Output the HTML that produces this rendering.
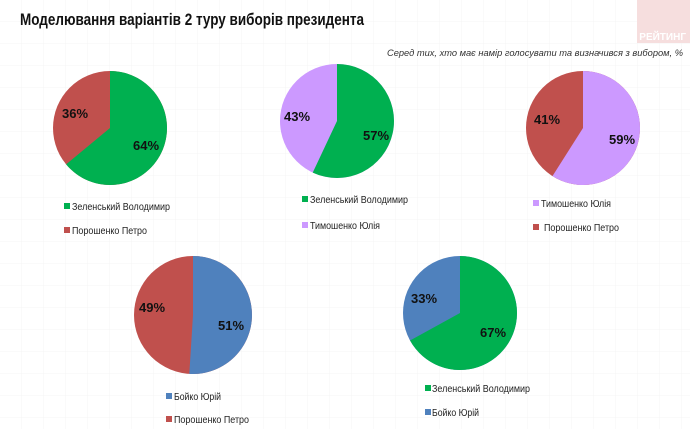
<!DOCTYPE html>
<html><head><meta charset="utf-8"><style>
body{margin:0;width:690px;height:429px;overflow:hidden;background:#fff;font-family:"Liberation Sans",sans-serif;}
svg{display:block}
</style></head><body>
<svg id="s" width="690" height="429" xmlns="http://www.w3.org/2000/svg" font-family="Liberation Sans, sans-serif">
<defs><pattern id="g" width="22" height="22" patternUnits="userSpaceOnUse"><path d="M22 0V22H0" fill="none" stroke="#f4f4f4" stroke-width="1"/></pattern></defs>
<rect width="690" height="429" fill="url(#g)"/>
<rect x="637" y="0" width="53" height="43" fill="#f6dede"/>
<text x="686" y="40" font-size="10" font-weight="bold" fill="#fff" text-anchor="end">РЕЙТИНГ</text>
<text x="20" y="25" font-size="17" font-weight="bold" fill="#111" textLength="344" lengthAdjust="spacingAndGlyphs">Моделювання варіантів 2 туру виборів президента</text>
<text x="683" y="56" font-size="9.5" font-style="italic" fill="#333" text-anchor="end" textLength="296" lengthAdjust="spacingAndGlyphs">Серед тих, хто має намір голосувати  та визначився з вибором, %</text>
<g id="pies"></g>
<g font-size="10" fill="#222" lengthAdjust="spacingAndGlyphs">
<rect x="64" y="203" width="6" height="6" fill="#00b050"/><text x="72" y="210" textLength="98" lengthAdjust="spacingAndGlyphs">Зеленський Володимир</text>
<rect x="64" y="227" width="6" height="6" fill="#c0504d"/><text x="72" y="234" textLength="75" lengthAdjust="spacingAndGlyphs">Порошенко Петро</text>
<rect x="302" y="196" width="6" height="6" fill="#00b050"/><text x="310" y="203" textLength="98" lengthAdjust="spacingAndGlyphs">Зеленський Володимир</text>
<rect x="302" y="222" width="6" height="6" fill="#cc99ff"/><text x="310" y="229" textLength="70" lengthAdjust="spacingAndGlyphs">Тимошенко Юлія</text>
<rect x="533" y="200" width="6" height="6" fill="#cc99ff"/><text x="541" y="207" textLength="70" lengthAdjust="spacingAndGlyphs">Тимошенко Юлія</text>
<rect x="533" y="224" width="6" height="6" fill="#c0504d"/><text x="544" y="231" textLength="75" lengthAdjust="spacingAndGlyphs">Порошенко Петро</text>
<rect x="166" y="393" width="6" height="6" fill="#4f81bd"/><text x="174" y="400" textLength="47" lengthAdjust="spacingAndGlyphs">Бойко Юрій</text>
<rect x="166" y="416" width="6" height="6" fill="#c0504d"/><text x="174" y="423" textLength="75" lengthAdjust="spacingAndGlyphs">Порошенко Петро</text>
<rect x="425" y="385" width="6" height="6" fill="#00b050"/><text x="432" y="392" textLength="98" lengthAdjust="spacingAndGlyphs">Зеленський Володимир</text>
<rect x="425" y="409" width="6" height="6" fill="#4f81bd"/><text x="432" y="416" textLength="47" lengthAdjust="spacingAndGlyphs">Бойко Юрій</text>
</g>
<g font-size="13" font-weight="bold" fill="#111" text-anchor="middle">
<text x="75" y="118">36%</text><text x="146" y="150">64%</text>
<text x="297" y="121">43%</text><text x="376" y="140">57%</text>
<text x="547" y="124">41%</text><text x="622" y="144">59%</text>
<text x="152" y="312">49%</text><text x="231" y="330">51%</text>
<text x="424" y="303">33%</text><text x="493" y="337">67%</text>
</g>
</svg>
<script>
var P=[[110,128,57,.64,"#00b050","#c0504d"],[337,121,57,.57,"#00b050","#cc99ff"],[583,128,57,.59,"#cc99ff","#c0504d"],[193,315,59,.51,"#4f81bd","#c0504d"],[460,313,57,.67,"#00b050","#4f81bd"]];
var h="";
P.forEach(function(p){var cx=p[0],cy=p[1],r=p[2],f=p[3];
var a=f*2*Math.PI,x=cx+r*Math.sin(a),y=cy-r*Math.cos(a);
h+='<circle cx="'+cx+'" cy="'+cy+'" r="'+r+'" fill="'+p[5]+'"/>';
h+='<path d="M'+cx+' '+cy+'L'+cx+' '+(cy-r)+'A'+r+' '+r+' 0 '+(f>.5?1:0)+' 1 '+x+' '+y+'Z" fill="'+p[4]+'"/>';});
document.getElementById("pies").innerHTML=h;
</script>
</body></html>
